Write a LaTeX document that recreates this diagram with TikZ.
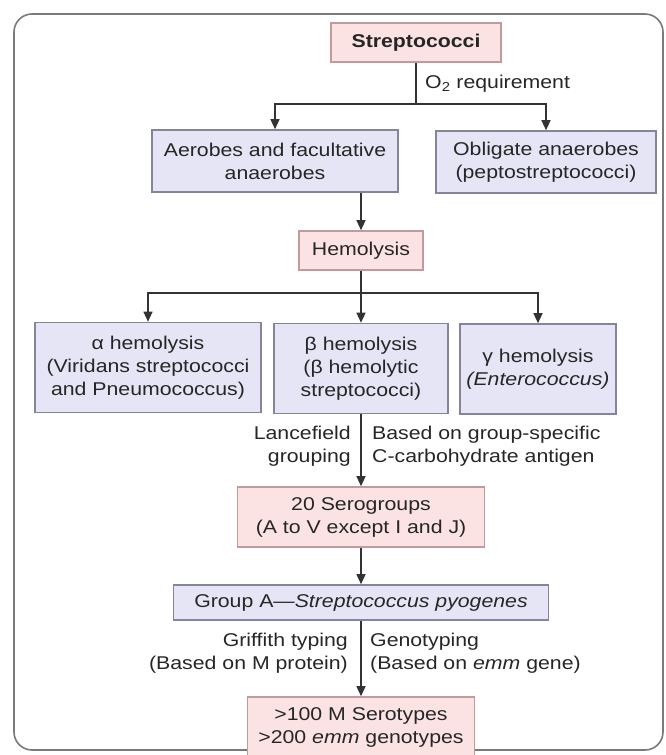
\documentclass[tikz,border=0pt]{standalone}
\usepackage{fontspec}
\setmainfont[FakeStretch=1.15]{Liberation Sans}
\usetikzlibrary{arrows.meta}
\definecolor{pinkfill}{HTML}{FBE3E3}
\definecolor{pinkline}{HTML}{C09A9E}
\definecolor{bluefill}{HTML}{E5E5F5}
\definecolor{blueline}{HTML}{86849C}
\definecolor{ink}{HTML}{262626}
\definecolor{wirecol}{HTML}{333333}
\definecolor{framegray}{HTML}{7A7A7A}

\begin{document}
\begin{tikzpicture}[x=1pt,y=-1pt,
  every node/.style={font=\fontsize{18.5}{23}\selectfont, text=ink},
  box/.style={draw, line width=1.6pt, inner sep=0pt, align=center},
  pinkbox/.style={box, fill=pinkfill, draw=pinkline},
  bluebox/.style={box, fill=bluefill, draw=blueline},
  wire/.style={draw=wirecol, line width=1.3pt},
  arr/.style={wire, -{Triangle[length=10pt,width=9pt]}},
  note/.style={inner sep=0pt}]

\useasboundingbox (0,0) rectangle (665,755);

% outer rounded frame
\draw[framegray, line width=1.6pt, rounded corners=18pt] (14,14) rectangle (663,750);

% boxes
\node[pinkbox, minimum width=170pt, minimum height=39pt] (strep) at (416,42.5) {\textbf{Streptococci}};
\node[bluebox, minimum width=246pt, minimum height=62pt] (aer) at (275,161) {Aerobes and facultative\\anaerobes};
\node[bluebox, minimum width=220pt, minimum height=62pt] (obl) at (546,162) {Obligate anaerobes\\(peptostreptococci)};
\node[pinkbox, minimum width=124pt, minimum height=39pt] (hemo) at (361,250.5) {Hemolysis};
\node[bluebox, minimum width=226pt, minimum height=90pt] (alpha) at (148,367.5) {α hemolysis\\(Viridans streptococci\\and Pneumococcus)};
\node[bluebox, minimum width=174pt, minimum height=90pt] (beta) at (361,368.5) {β hemolysis\\(β hemolytic\\streptococci)};
\node[bluebox, minimum width=156pt, minimum height=90pt] (gamma) at (538,369) {γ hemolysis\\\textit{(Enterococcus)}};
\node[pinkbox, minimum width=247pt, minimum height=60pt] (sero) at (361,517) {20 Serogroups\\(A to V except I and J)};
\node[bluebox, minimum width=375pt, minimum height=35pt] (grpa) at (361,602.5) {Group A---\textit{Streptococcus pyogenes}};
\node[pinkbox, minimum width=227pt, minimum height=60pt] (types) at (361,727) {>100 M Serotypes\\>200 \textit{emm} genotypes};

% branch points
\coordinate (split1) at (strep.south |- 0,104);
\coordinate (split2) at (hemo.south |- 0,293);

% connectors
\draw[wire] (strep.south) -- (split1);
\draw[arr] (split1) -| (aer.north);
\draw[arr] (split1) -| (obl.north);
\draw[arr] (aer.south -| hemo.north) -- (hemo.north);
\draw[wire] (hemo.south) -- (split2);
\draw[arr] (split2) -| (alpha.north);
\draw[arr] (split2) -- (beta.north);
\draw[arr] (split2) -| (gamma.north);
\draw[arr] (beta.south) -- (sero.north);
\draw[arr] (sero.south) -- (grpa.north);
\draw[arr] (grpa.south) -- (types.north);

% connector labels
\node[note, anchor=west] (o2) at (425,84) {O\textsubscript{2} requirement};
\node[note, anchor=east, align=right] (lance) at (351,446.5) {Lancefield\\grouping};
\node[note, anchor=west, align=left] (basis) at (372,446.5) {Based on group-specific\\C-carbohydrate antigen};
\node[note, anchor=east, align=right] (griff) at (348,653.5) {Griffith typing\\(Based on M protein)};
\node[note, anchor=west, align=left] (geno) at (370,653.5) {Genotyping\\(Based on \textit{emm} gene)};
\end{tikzpicture}
\end{document}
